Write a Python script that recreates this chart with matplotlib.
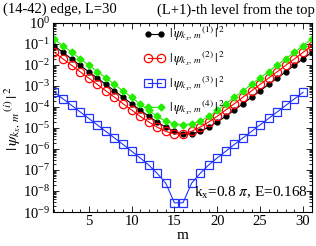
import numpy as np
import matplotlib
matplotlib.use("Agg")
import matplotlib.pyplot as plt
from matplotlib.ticker import MultipleLocator, LogLocator, NullFormatter

plt.rcParams['font.family'] = ['Liberation Serif', 'DejaVu Serif']
plt.rcParams['mathtext.fontset'] = 'stix'

# site index m
m_long = np.arange(1, 32)   # series 1, 2, 4
m_short = np.arange(1, 31)  # series 3

# log10 |psi|^2
log_psi1 = [-1.09, -1.40, -1.71, -2.01, -2.32, -2.62, -2.92, -3.23, -3.53, -3.84, -4.14,
            -4.44, -4.71, -4.96, -5.16, -5.28, -5.28, -5.16, -4.96, -4.71, -4.44, -4.14,
            -3.84, -3.53, -3.23, -2.92, -2.62, -2.32, -2.01, -1.71, -1.40]
log_psi2 = [-1.40, -1.71, -2.01, -2.32, -2.62, -2.92, -3.23, -3.53, -3.84, -4.14, -4.44,
            -4.71, -4.96, -5.16, -5.28, -5.28, -5.16, -4.96, -4.71, -4.44, -4.14, -3.84,
            -3.53, -3.23, -2.92, -2.62, -2.32, -2.01, -1.71, -1.40, -1.09]
log_psi3 = [-3.30, -3.61, -3.92, -4.23, -4.54, -4.85, -5.16, -5.47, -5.78, -6.10, -6.42,
            -6.76, -7.16, -7.63, -8.56, -8.56, -7.63, -7.16, -6.76, -6.42, -6.10, -5.78,
            -5.47, -5.16, -4.85, -4.54, -4.23, -3.92, -3.61, -3.30]
log_psi4 = [-0.76, -1.08, -1.39, -1.70, -2.00, -2.31, -2.61, -2.92, -3.23, -3.54, -3.85,
            -4.16, -4.45, -4.68, -4.80, -4.84, -4.80, -4.68, -4.45, -4.16, -3.85, -3.54,
            -3.23, -2.92, -2.61, -2.31, -2.00, -1.70, -1.39, -1.08, -0.76]

labels = [r'$|\,\psi_{k_x,\,m}{}^{\,(%d)}\,|^{\,2}$' % i for i in range(1, 5)]

fig = plt.figure(figsize=(3.16, 2.46), dpi=100)
ax = fig.add_axes([0.168, 0.138, 0.818, 0.7685])

ax.plot(m_long, 10.0**np.array(log_psi1), '-o', color='black', lw=0.8, ms=3.5,
        label=labels[0])
ax.plot(m_long, 10.0**np.array(log_psi2), '-o', color='#ff0000', mfc='none', mew=0.9,
        lw=0.8, ms=6, label=labels[1])
ax.plot(m_short, 10.0**np.array(log_psi3), '-s', color='#2233ff', mfc='none', mew=0.9,
        lw=0.8, ms=6, label=labels[2])
ax.plot(m_long, 10.0**np.array(log_psi4), '-D', color='#22ee00', lw=0.8, ms=3.5,
        label=labels[3])

ax.set_yscale('log')
ax.set_ylim(1e-9, 1)
ax.set_xlim(0.85, 31)
ax.set_yticks(10.0**np.arange(-9, 1))
ax.yaxis.set_minor_locator(LogLocator(base=10, subs=np.arange(2, 10), numticks=20))
ax.yaxis.set_minor_formatter(NullFormatter())
ax.xaxis.set_major_locator(MultipleLocator(5))
ax.xaxis.set_minor_locator(MultipleLocator(1))
ax.tick_params(which='both', direction='in', top=True, right=True, labelsize=10.5,
               width=0.6)
ax.tick_params(which='major', length=4, pad=2)
ax.tick_params(which='minor', length=2)
for s in ax.spines.values():
    s.set_linewidth(0.8)

ax.set_xlabel('m', fontsize=11, labelpad=1)
fig.text(0.04, 0.52, r'$|\,\psi_{k_x,\,m}{}^{\,(i)}\,|^{\,2}$', fontsize=11.5,
         rotation=90, ha='center', va='center')

ax.legend(loc='upper left', bbox_to_anchor=(0.32, 1.03), frameon=False, fontsize=9.5,
          numpoints=2, handlelength=1.6, handletextpad=0.3, labelspacing=0.5,
          borderpad=0.1)

fig.text(0.008, 0.948, '(14-42) edge, L=30', fontsize=10.5, va='baseline', ha='left')
fig.text(0.997, 0.944, '(L+1)-th level from the top', fontsize=10.5, va='baseline',
         ha='right')
ax.text(0.985, 0.1, r'$\mathregular{k_x}$=0.8 $\pi$, E=0.168', transform=ax.transAxes,
        fontsize=11, ha='right', va='center')

fig.savefig('out.png', dpi=100)
